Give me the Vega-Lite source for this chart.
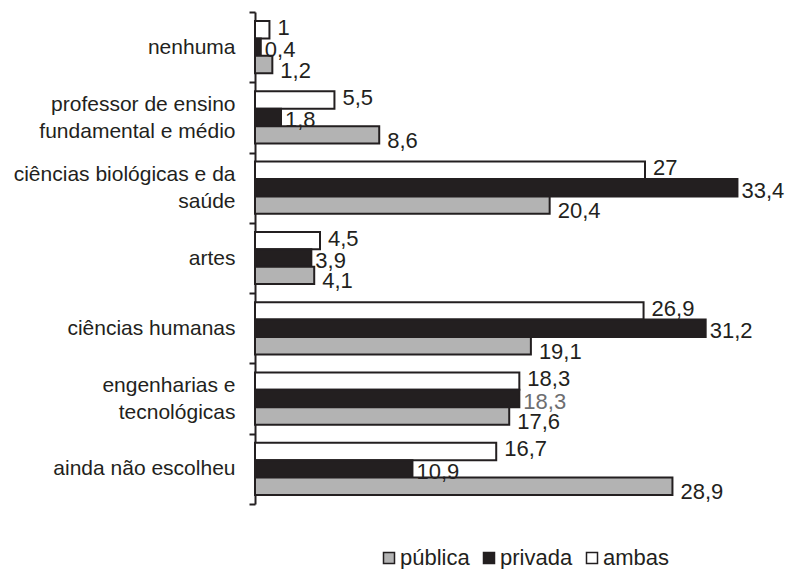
{
  "$schema": "https://vega.github.io/schema/vega-lite/v6.json",
  "width": 520,
  "height": 492,
  "autosize": {"type": "none"},
  "padding": {"left": 255, "top": 12, "right": 10, "bottom": 65},
  "config": {
    "font": "Liberation Sans",
    "view": {"stroke": null},
    "locale": {"number": {"decimal": ",", "thousands": ".", "grouping": [3], "currency": ["R$", ""]}}
  },
  "data": {
    "values": [
      {"cat": "nenhuma", "serie": "ambas", "v": 1},
      {"cat": "nenhuma", "serie": "privada", "v": 0.4},
      {"cat": "nenhuma", "serie": "pública", "v": 1.2},
      {"cat": "professor de ensino|fundamental e médio", "serie": "ambas", "v": 5.5},
      {"cat": "professor de ensino|fundamental e médio", "serie": "privada", "v": 1.8},
      {"cat": "professor de ensino|fundamental e médio", "serie": "pública", "v": 8.6},
      {"cat": "ciências biológicas e da|saúde", "serie": "ambas", "v": 27},
      {"cat": "ciências biológicas e da|saúde", "serie": "privada", "v": 33.4},
      {"cat": "ciências biológicas e da|saúde", "serie": "pública", "v": 20.4},
      {"cat": "artes", "serie": "ambas", "v": 4.5},
      {"cat": "artes", "serie": "privada", "v": 3.9},
      {"cat": "artes", "serie": "pública", "v": 4.1},
      {"cat": "ciências humanas", "serie": "ambas", "v": 26.9},
      {"cat": "ciências humanas", "serie": "privada", "v": 31.2},
      {"cat": "ciências humanas", "serie": "pública", "v": 19.1},
      {"cat": "engenharias e|tecnológicas", "serie": "ambas", "v": 18.3},
      {"cat": "engenharias e|tecnológicas", "serie": "privada", "v": 18.3},
      {"cat": "engenharias e|tecnológicas", "serie": "pública", "v": 17.6},
      {"cat": "ainda não escolheu", "serie": "ambas", "v": 16.7},
      {"cat": "ainda não escolheu", "serie": "privada", "v": 10.9},
      {"cat": "ainda não escolheu", "serie": "pública", "v": 28.9}
    ]
  },
  "encoding": {
    "y": {
      "field": "cat",
      "type": "nominal",
      "sort": ["nenhuma", "professor de ensino|fundamental e médio", "ciências biológicas e da|saúde", "artes", "ciências humanas", "engenharias e|tecnológicas", "ainda não escolheu"],
      "scale": {"paddingInner": 0, "paddingOuter": 0},
      "title": null,
      "axis": {
        "tickBand": "extent",
        "tickSize": 6,
        "tickWidth": 2,
        "tickColor": "#231f20",
        "domainColor": "#231f20",
        "domainWidth": 2,
        "labelFontSize": 21,
        "labelColor": "#231f20",
        "labelPadding": 14,
        "labelLimit": 0,
        "labelLineHeight": 27,
        "labelOffset": {"condition": {"test": "indexof(datum.label, '|') >= 0", "value": -13}, "value": 0},
        "labelExpr": "split(datum.label, '|')"
      }
    },
    "yOffset": {
      "field": "serie",
      "type": "nominal",
      "scale": {"domain": ["ambas", "privada", "pública"], "paddingOuter": 0.52, "paddingInner": 0}
    },
    "x": {
      "field": "v",
      "type": "quantitative",
      "scale": {"domain": [0, 36], "nice": false},
      "axis": null,
      "title": null
    }
  },
  "layer": [
    {
      "mark": {"type": "bar", "stroke": "#231f20", "strokeWidth": 2},
      "encoding": {
        "fill": {
          "field": "serie",
          "type": "nominal",
          "scale": {"domain": ["pública", "privada", "ambas"], "range": ["#b3b3b3", "#231f20", "#ffffff"]},
          "legend": {
            "title": null,
            "orient": "none",
            "direction": "horizontal",
            "legendX": 123,
            "legendY": 535,
            "symbolType": "square",
            "symbolSize": 121,
            "symbolStrokeColor": "#231f20",
            "symbolStrokeWidth": 1.5,
            "labelFontSize": 22,
            "labelColor": "#231f20",
            "labelOffset": 0,
            "columnPadding": 8,
            "encode": {"symbols": {"update": {"stroke": {"value": "#231f20"}, "strokeWidth": {"value": 1.5}}}}
          }
        }
      }
    },
    {
      "transform": [{"filter": "datum.serie === 'ambas'"}],
      "mark": {"type": "text", "align": "left", "baseline": "middle", "dx": 8, "dy": -2, "fontSize": 22, "color": "#231f20"},
      "encoding": {"text": {"field": "v", "type": "quantitative", "format": ".3~g"}}
    },
    {
      "transform": [{"filter": "datum.serie === 'privada'"}],
      "mark": {"type": "text", "align": "left", "baseline": "middle", "dx": 4, "dy": 3, "fontSize": 22},
      "encoding": {
        "text": {"field": "v", "type": "quantitative", "format": ".3~g"},
        "color": {"condition": {"test": "datum.cat === 'engenharias e|tecnológicas'", "value": "#6d6e70"}, "value": "#231f20"}
      }
    },
    {
      "transform": [{"filter": "datum.serie === 'pública'"}],
      "mark": {"type": "text", "align": "left", "baseline": "middle", "dx": 8, "dy": 6, "fontSize": 22, "color": "#231f20"},
      "encoding": {"text": {"field": "v", "type": "quantitative", "format": ".3~g"}}
    }
  ]
}
